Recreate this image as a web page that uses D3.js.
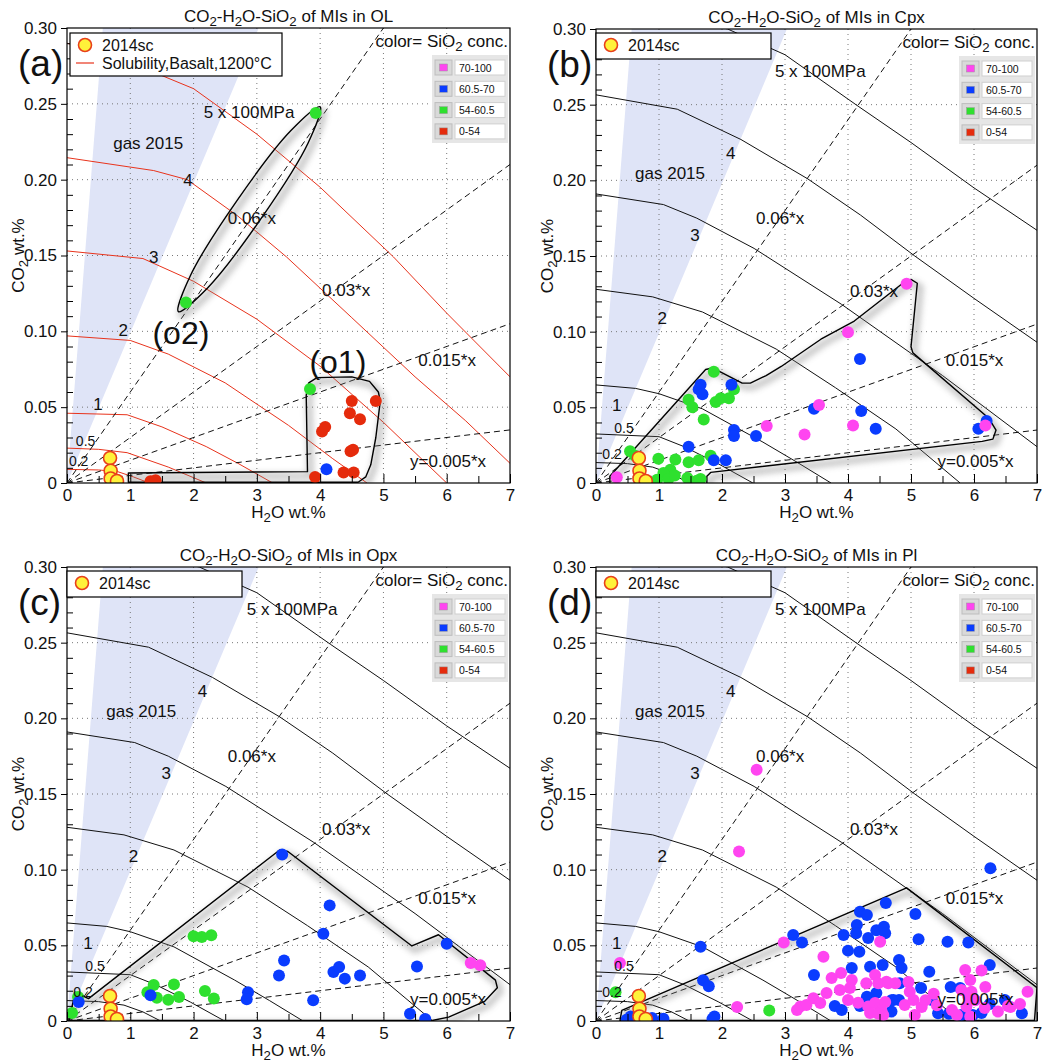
<!DOCTYPE html>
<html><head><meta charset="utf-8">
<script src="https://cdn.jsdelivr.net/npm/d3@7"></script>
<style>
body{margin:0;background:#fff}
svg{display:block}
text{font-family:"Liberation Sans",Arial,Helvetica,sans-serif;fill:#111}
</style>
</head><body>
<svg id="chart" width="1045" height="1064"></svg>
<script>
// ---------------- DATA ----------------
const xTicks = [0,1,2,3,4,5,6,7];
const yTicks = [0,0.05,0.10,0.15,0.20,0.25,0.30];
const yTickLabels = ["0","0.05","0.10","0.15","0.20","0.25","0.30"];
const panelTitles = ["OL","Cpx","Opx","Pl"];
const panelLetters = ["(a)","(b)","(c)","(d)"];

const sio2Labels = ["70-100","60.5-70","54-60.5","0-54"];
const sio2Colors = ["#ff45f0","#0a3cff","#2ee02e","#e52b0c"];

const ratioSlopes = [0.005,0.015,0.03,0.06];
const ratioLabels = ["y=0.005*x","0.015*x","0.03*x","0.06*x"];
const ratioLabelPos = [[5.42,0.0145],[5.55,0.081],[4.03,0.127],[2.54,0.175]];

const gasBand = [[0,0],[0.566,0.30],[3.03,0.30]];
const gasLabelPosA = [0.73,0.224];
const gasLabelPosB = [0.62,0.205];

const pressureLabels = ["0.2","0.5","1","2","3","4","5 x 100MPa"];
// Solubility isobars, basalt 1200°C (panel a, red)
const isobarsA = [
  [[0,0.009],[0.5,0.0086],[0.8,0.0075],[1.05,0.004],[1.3,0]],
  [[0,0.023],[0.5,0.0222],[0.95,0.020],[1.6,0.0105],[2.2,0]],
  [[0,0.046],[0.95,0.045],[1.5,0.037],[2.2,0.024],[2.7,0.013],[3.25,0]],
  [[0,0.097],[1.0,0.094],[1.6,0.085],[2.5,0.066],[3.5,0.038],[4.2,0.016],[4.74,0]],
  [[0,0.153],[1.2,0.148],[2,0.133],[3,0.108],[4,0.077],[5,0.04],[6.0,0]],
  [[0,0.2145],[1.37,0.206],[1.9,0.20],[2.7,0.176],[3.47,0.149],[4.5,0.109],[5.5,0.07],[6.3,0.041],[7,0.013]],
  [[0,0.29],[1.42,0.27],[2.0,0.26],[3,0.23],[4.0,0.195],[5.16,0.149],[6,0.112],[7,0.07]]
];
// isobars in panels b, c, d (black)
const isobarsB = [
  [[0,0.0135],[0.5,0.0128],[0.9,0.0105],[1.2,0.006],[1.48,0]],
  [[0,0.0324],[1,0.0306],[1.4,0.024],[1.95,0.0125],[2.49,0]],
  [[0,0.0648],[0.63,0.0625],[1.0,0.059],[1.69,0.049],[2.65,0.027],[3.2,0.0135],[3.73,0]],
  [[0,0.128],[0.9,0.123],[1.69,0.113],[2.86,0.0885],[3.8,0.063],[4.76,0.0357],[5.78,0]],
  [[0,0.191],[1.07,0.184],[1.6,0.175],[2.51,0.155],[3.9,0.118],[5.5,0.071],[7,0.024]],
  [[0,0.2565],[1.29,0.247],[2.3,0.227],[3.36,0.201],[4.2,0.177],[5.06,0.15],[6,0.122],[7,0.093]],
  [[0,0.318],[1,0.31],[2.09,0.30],[3,0.283],[4.16,0.249],[5,0.225],[6,0.195],[7,0.167]]
];
const isobarLabelPosA = [[0.03,0.0145],[0.14,0.0277],[0.49,0.052],[0.89,0.101],[1.37,0.149],[1.91,0.20],[2.16,0.2446]];
const isobarLabelPosB = [[0.10,0.0192],[0.29,0.0363],[0.33,0.0515],[1.05,0.109],[1.57,0.164],[2.14,0.218],[2.84,0.272]];

// 2014sc
const sc2014 = [[0.68,0.0165],[0.69,0.0081],[0.69,0.003],[0.79,0.0013]];

// (a) OL
const olPink = [];
const olBlue = [[4.10,0.009]];
const olGreen = [[3.84,0.062],[1.88,0.119],[3.93,0.244]];
const olRed = [[1.32,0.0012],[1.40,0.0018],[3.92,0.004],[4.37,0.007],[4.53,0.007],[4.48,0.021],[4.52,0.022],
  [4.03,0.034],[4.08,0.037],[4.47,0.046],[4.63,0.042],[4.50,0.054],[4.88,0.054]];

// (b) Cpx
const cpxPink = [[4.93,0.1316],[4.0,0.0996],[3.54,0.0515],[2.71,0.0376],[3.31,0.032],[4.08,0.038],[6.18,0.038],[0.33,0.0038]];
const cpxBlue = [[1.66,0.065],[1.63,0.062],[1.69,0.0586],[2.15,0.065],[2.19,0.035],[2.19,0.031],[2.54,0.031],
  [1.47,0.024],[1.87,0.015],[2.06,0.015],[4.19,0.082],[3.46,0.049],[4.21,0.0476],[4.44,0.0358],[6.07,0.0358],[6.2,0.041]];
const cpxGreen = [[1.87,0.0735],[1.47,0.055],[1.53,0.050],[1.71,0.042],[1.90,0.0535],[1.98,0.056],[2.11,0.056],
  [2.19,0.062],[0.54,0.021],[0.62,0.018],[0.99,0.016],[1.26,0.0155],[1.47,0.0137],[1.63,0.015],[1.82,0.018],
  [1.18,0.0088],[1.07,0.0066],[0.97,0.0022],[1.15,0.0027],[1.45,0.0033],[1.66,0.0027],[1.60,0.0015],[0.76,0.0005],[1.25,0.005]];
const cpxRed = [];

// (c) Opx
const opxPink = [[6.38,0.0383],[6.53,0.0368]];
const opxBlue = [[3.40,0.110],[4.15,0.0764],[4.05,0.0577],[3.43,0.040],[3.35,0.030],[4.21,0.0324],[4.30,0.0357],
  [4.39,0.028],[4.63,0.030],[3.89,0.0137],[2.86,0.019],[2.84,0.0143],[6.0,0.051],[5.53,0.036],[5.42,0.0048],
  [5.66,0.0013],[0.185,0.0126],[1.32,0.017]];
const opxGreen = [[2.0,0.056],[2.13,0.0555],[2.28,0.0566],[1.37,0.0238],[1.69,0.0242],[1.27,0.019],[1.42,0.0154],
  [1.60,0.014],[1.77,0.0159],[2.18,0.0198],[2.32,0.0148],[0.175,0.0159],[0.08,0.0053]];
const opxRed = [];

// (d) Pl
const plBlue = [[6.26,0.101],[1.66,0.049],[1.70,0.027],[1.79,0.023],[1.85,0.0015],[1.88,0.003],[1.07,0.0015],
  [0.49,0.001],[0.89,0.002],[0.75,0.001],[0.55,0.003],
  [3.13,0.0568],[3.27,0.0518],[3.93,0.0568],[4.19,0.0722],[4.30,0.070],[4.60,0.078],[4.14,0.0634],[4.13,0.058],
  [4.45,0.060],[4.57,0.0623],[4.59,0.058],[4.32,0.0548],[4.0,0.0465],[4.18,0.0458],[4.35,0.0359],[4.06,0.035],
  [4.55,0.037],[4.81,0.0403],[4.85,0.035],[3.46,0.0304],[4.72,0.0139],[4.81,0.0139],[4.30,0.016],[4.45,0.0185],
  [3.79,0.0099],[3.90,0.0073],[4.19,0.0099],[4.82,0.025],[4.69,0.0062],
  [5.07,0.0707],[5.12,0.054],[5.58,0.0524],[5.91,0.0518],[5.29,0.0326],[6.25,0.037],[5.16,0.0218],[5.63,0.0225],
  [5.78,0.0218],[5.33,0.0139],[5.43,0.0051],[5.80,0.004],[5.98,0.004],[6.12,0.0053],[6.25,0.0112],[6.49,0.0139],
  [6.76,0.0051],[4.69,0.0137],[5.6,0.0048]];
const plPink = [[2.27,0.112],[2.55,0.166],[0.38,0.0383],[2.98,0.0518],[2.24,0.0093],
  [3.61,0.0425],[4.51,0.0524],[3.89,0.0317],[4.06,0.0271],[3.74,0.0284],[4.03,0.0218],[3.87,0.0205],[4.29,0.025],
  [4.43,0.0304],[4.48,0.025],[4.61,0.026],[4.75,0.025],[3.45,0.015],[3.56,0.0119],[3.24,0.0095],[3.34,0.0106],
  [3.66,0.0185],[4.0,0.0139],[4.16,0.0121],[4.32,0.0095],[4.43,0.0119],[4.51,0.0086],[4.56,0.004],[4.35,0.0053],
  [4.90,0.0106],[3.19,0.0073],
  [5.86,0.0337],[6.12,0.0333],[5.94,0.0271],[5.80,0.0205],[5.96,0.0194],[6.85,0.0194],[6.73,0.0112],[6.54,0.0099],
  [4.96,0.0258],[4.98,0.0194],[5.04,0.0139],[5.06,0.004],[5.65,0.0073],[5.73,0.004],[5.88,0.0095],[5.94,0.0029],
  [6.17,0.0086],[6.38,0.0062],[5.17,0.0093],[5.41,0.0104],[5.36,0.018],[5.23,0.0137],[6.18,0.0225],[6.02,0.0137],
  [5.91,0.016],[6.58,0.0093],[4.64,0.025],[4.53,0.007],[4.48,0.0048],[4.59,0.0126]];
const plGreen = [[2.75,0.007],[0.31,0.019]];
const plRed = [];

// Outlined regions
const olRegionO1 = [[0.97,0.0005],[0.97,0.0066],[3.80,0.0075],[3.78,0.058],[3.82,0.066],[3.95,0.0695],[4.5,0.0700],
  [4.78,0.067],[4.92,0.06],[4.95,0.054],[4.88,0.03],[4.80,0.012],[4.72,0.004],[4.6,0.0005]];
const olRegionO2 = [[4.0,0.248],[3.81,0.2242],[3.074,0.1748],[2.225,0.1288],[1.76,0.113],[1.951,0.1368],[2.686,0.1862],[3.535,0.2322]];
const cpxRegion = [[0.22,-0.001],[0.22,0.0044],[1.74,0.075],[1.85,0.076],[2.32,0.066],[2.45,0.066],[2.7,0.071],
  [2.94,0.077],[3.57,0.095],[4.1,0.107],[4.9,0.133],[5.0,0.1345],[5.1,0.132],[5.06,0.115],[5.0,0.09],[5.03,0.086],
  [6.23,0.043],[6.35,0.035],[6.3,0.029],[6.13,0.0275],[1.82,0.007],[1.76,0.0044],[1.76,-0.001]];
const opxRegion = [[0.03,0.0003],[0.13,0.019],[0.34,0.0148],[3.36,0.113],[3.49,0.112],[5.45,0.0496],[5.87,0.057],
  [6.77,0.027],[6.8,0.022],[6.6,0.013],[6.03,0.0026],[5.77,0.0003]];
const plRegion = [[0.41,0.007],[4.93,0.088],[7.0,0.022],[6.96,0.0003],[0.38,0.0003]];

// ---------------- LAYOUT ----------------
const panels = [
  {left:67,right:510,top:28,bottom:483,iso:isobarsA,isoPos:isobarLabelPosA,isoColor:"#e8331c",gasPos:gasLabelPosA,
   pts:[olPink,olBlue,olGreen,olRed],regions:[{d:olRegionO1,smooth:false},{d:olRegionO2,smooth:true}],
   legend:{x:70,y:33,w:212,h:43},solLegend:true},
  {left:596,right:1037,top:29,bottom:483,iso:isobarsB,isoPos:isobarLabelPosB,isoColor:"#111",gasPos:gasLabelPosB,
   pts:[cpxPink,cpxBlue,cpxGreen,cpxRed],regions:[{d:cpxRegion,smooth:false}],
   legend:{x:596,y:33,w:175,h:26},solLegend:false},
  {left:67,right:510,top:567,bottom:1021,iso:isobarsB,isoPos:isobarLabelPosB,isoColor:"#111",gasPos:gasLabelPosB,
   pts:[opxPink,opxBlue,opxGreen,opxRed],regions:[{d:opxRegion,smooth:false}],
   legend:{x:67,y:571,w:175,h:26},solLegend:false},
  {left:596,right:1037,top:567,bottom:1021,iso:isobarsB,isoPos:isobarLabelPosB,isoColor:"#111",gasPos:gasLabelPosB,
   pts:[plPink,plBlue,plGreen,plRed],regions:[{d:plRegion,smooth:false}],
   legend:{x:596,y:571,w:175,h:26},solLegend:false}
];

const svg = d3.select("#chart");
const defs = svg.append("defs");
defs.append("filter").attr("id","blur").attr("x","-10%").attr("y","-10%").attr("width","120%").attr("height","120%")
  .append("feGaussianBlur").attr("stdDeviation",3);

function rich(sel, str, shift){
  const parts = str.split(/_(\d)/);
  let up = false;
  parts.forEach((p,i)=>{
    if(p==="") return;
    if(i%2===1){ sel.append("tspan").attr("dy",shift).attr("font-size","0.78em").text(p); up = true; }
    else { const t = sel.append("tspan").text(p); if(up){ t.attr("dy",-shift); up=false; } }
  });
  return sel;
}

panels.forEach((P,pi)=>{
  const x = d3.scaleLinear().domain([0,7]).range([P.left,P.right]);
  const y = d3.scaleLinear().domain([0,0.30]).range([P.bottom,P.top]);
  const line = d3.line().x(d=>x(d[0])).y(d=>y(d[1]));
  const g = svg.append("g");
  const clipId = "clip"+pi;
  defs.append("clipPath").attr("id",clipId).append("rect")
    .attr("x",P.left).attr("y",P.top).attr("width",P.right-P.left).attr("height",P.bottom-P.top);
  const plot = g.append("g").attr("clip-path",`url(#${clipId})`);

  // gas band
  plot.append("path").datum(gasBand).attr("d",line.curve(d3.curveLinearClosed)).attr("fill","#dfe4f7");
  line.curve(d3.curveLinear);

  // grid
  plot.selectAll(".gx").data(xTicks.slice(1,-1)).join("line")
    .attr("x1",d=>x(d)).attr("x2",d=>x(d)).attr("y1",P.top).attr("y2",P.bottom)
    .attr("stroke","#777").attr("stroke-width",1).attr("stroke-dasharray","1,4");
  plot.selectAll(".gy").data(yTicks.slice(1,-1)).join("line")
    .attr("y1",d=>y(d)).attr("y2",d=>y(d)).attr("x1",P.left).attr("x2",P.right)
    .attr("stroke","#777").attr("stroke-width",1).attr("stroke-dasharray","1,4");

  // isobars
  plot.selectAll(".iso").data(P.iso).join("path")
    .attr("d",line).attr("fill","none").attr("stroke",P.isoColor).attr("stroke-width",1);

  // ratio lines
  plot.selectAll(".ratio").data(ratioSlopes).join("path")
    .attr("d",s=>line([[0,0],[7,7*s]])).attr("fill","none").attr("stroke","#111")
    .attr("stroke-width",1).attr("stroke-dasharray","6,4");

  // regions
  P.regions.forEach(R=>{
    const rl = d3.line().x(d=>x(d[0])).y(d=>y(d[1]))
      .curve(R.smooth ? d3.curveCatmullRomClosed.alpha(0.5) : d3.curveLinearClosed);
    plot.append("path").attr("d",rl(R.d)).attr("fill","none").attr("stroke","#777")
      .attr("stroke-width",6).attr("opacity",0.45).attr("filter","url(#blur)")
      .attr("transform","translate(3,4)");
    plot.append("path").attr("d",rl(R.d)).attr("fill","none").attr("stroke","#000")
      .attr("stroke-width",1.4).attr("stroke-linejoin","round");
  });

  // points by SiO2 class (draw order: red, green, blue, pink)
  [3,2,1,0].forEach(ci=>{
    plot.selectAll(null).data(P.pts[ci]).join("circle")
      .attr("cx",d=>x(d[0])).attr("cy",d=>y(d[1])).attr("r",6).attr("fill",sio2Colors[ci]);
  });
  // 2014sc
  plot.selectAll(null).data(sc2014).join("circle")
    .attr("cx",d=>x(d[0])).attr("cy",d=>y(d[1])).attr("r",6.5)
    .attr("fill","#fff23a").attr("stroke","#e8401a").attr("stroke-width",1.6);

  // labels inside plot
  P.isoPos.forEach((p,i)=>{
    const lab = pressureLabels[i];
    const small = (i<2);
    const single = (i>=2 && i<=5);
    plot.append("text").attr("x",x(p[0])).attr("y",y(p[1])).attr("dy","0.35em")
      .attr("text-anchor",single?"middle":"start").attr("font-size",small?14:17).text(lab);
  });
  ratioLabelPos.forEach((p,i)=>{
    plot.append("text").attr("x",x(p[0])).attr("y",y(p[1])).attr("dy","0.35em")
      .attr("font-size",17).text(ratioLabels[i]);
  });
  plot.append("text").attr("x",x(P.gasPos[0])).attr("y",y(P.gasPos[1])).attr("dy","0.35em")
    .attr("font-size",17).text("gas 2015");
  if(pi===0){
    plot.append("text").attr("x",x(1.80)).attr("y",y(0.099)).attr("dy","0.35em").attr("text-anchor","middle")
      .attr("font-size",32).text("(o2)");
    plot.append("text").attr("x",x(4.28)).attr("y",y(0.0798)).attr("dy","0.35em").attr("text-anchor","middle")
      .attr("font-size",32).text("(o1)");
  }

  // frame
  g.append("rect").attr("x",P.left).attr("y",P.top).attr("width",P.right-P.left).attr("height",P.bottom-P.top)
    .attr("fill","none").attr("stroke","#000").attr("stroke-width",1.2);

  // y axis
  const yAx = d3.axisLeft(y).tickValues(yTicks).tickSize(6).tickPadding(4).tickFormat((d,i)=>yTickLabels[i]);
  const ya = g.append("g").attr("transform",`translate(${P.left},0)`).call(yAx);
  ya.select(".domain").remove();
  ya.selectAll("text").attr("font-size",17).attr("fill","#111").attr("font-family","Liberation Sans, Arial, sans-serif");
  const yMinor = d3.axisLeft(y).tickValues(d3.range(0.01,0.30,0.01).filter(v=>Math.abs(v*20-Math.round(v*20))>0.01))
    .tickSize(-6).tickFormat("");
  const ym = g.append("g").attr("transform",`translate(${P.left},0)`).call(yMinor);
  ym.select(".domain").remove();

  // x axis
  const xAx = d3.axisBottom(x).tickValues(xTicks).tickSize(-9).tickPadding(6).tickFormat(d3.format("d"));
  const xa = g.append("g").attr("transform",`translate(0,${P.bottom})`).call(xAx);
  xa.select(".domain").remove();
  xa.selectAll("text").attr("font-size",17).attr("fill","#111").attr("font-family","Liberation Sans, Arial, sans-serif");
  const xMinor = d3.axisBottom(x).tickValues(d3.range(0.5,7,1)).tickSize(-7).tickFormat("");
  const xm = g.append("g").attr("transform",`translate(0,${P.bottom})`).call(xMinor);
  xm.select(".domain").remove();

  // axis titles
  rich(g.append("text").attr("x",(P.left+P.right)/2).attr("y",P.bottom+35).attr("text-anchor","middle")
    .attr("font-size",17), "H_2O wt.%", 4);
  rich(g.append("text").attr("transform",`translate(${P.left-43},${(P.top+P.bottom)/2}) rotate(-90)`)
    .attr("text-anchor","middle").attr("font-size",17), "CO_2 wt.%", 4);

  // title
  rich(g.append("text").attr("x",(P.left+P.right)/2).attr("y",P.top-6).attr("text-anchor","middle")
    .attr("font-size",17), "CO_2-H_2O-SiO_2 of MIs in "+panelTitles[pi], 4);

  // panel letter
  g.append("text").attr("x",P.left-49).attr("y",P.top+48).attr("font-size",37).text(panelLetters[pi]);

  // marker legend
  const L = P.legend;
  g.append("rect").attr("x",L.x).attr("y",L.y).attr("width",L.w).attr("height",L.h)
    .attr("fill","#fff").attr("stroke","#000").attr("stroke-width",1.2);
  g.append("circle").attr("cx",L.x+15).attr("cy",L.y+12).attr("r",6.5)
    .attr("fill","#fff23a").attr("stroke","#e8401a").attr("stroke-width",1.6);
  g.append("text").attr("x",L.x+32).attr("y",L.y+18).attr("font-size",16).text("2014sc");
  if(P.solLegend){
    g.append("line").attr("x1",L.x+6).attr("x2",L.x+24).attr("y1",L.y+30).attr("y2",L.y+30)
      .attr("stroke","#e8331c").attr("stroke-width",1.2);
    g.append("text").attr("x",L.x+32).attr("y",L.y+36).attr("font-size",16).text("Solubility,Basalt,1200°C");
  }

  // SiO2 color legend
  rich(g.append("text").attr("x",P.right-2).attr("y",P.top+19).attr("text-anchor","end").attr("font-size",17),
    "color= SiO_2 conc.", 4);
  const bx = P.right-78, by = P.top+27;
  g.append("rect").attr("x",bx).attr("y",by).attr("width",76).attr("height",88).attr("fill","#e6e6e6");
  sio2Labels.forEach((lab,i)=>{
    const ry = by+5+i*21.3;
    g.append("rect").attr("x",bx+3).attr("y",ry).attr("width",17).attr("height",15)
      .attr("fill","#d9d9d9").attr("stroke","#bdbdbd").attr("stroke-width",1);
    g.append("rect").attr("x",bx+7.5).attr("y",ry+4).attr("width",8).attr("height",7)
      .attr("fill",sio2Colors[i]).attr("stroke","#999").attr("stroke-width",0.5);
    g.append("rect").attr("x",bx+23).attr("y",ry).attr("width",50).attr("height",15)
      .attr("fill","#fff").attr("stroke","#cfcfcf").attr("stroke-width",1);
    g.append("text").attr("x",bx+27).attr("y",ry+11.5).attr("font-size",10.5).text(lab);
  });
});
</script>
</body></html>
